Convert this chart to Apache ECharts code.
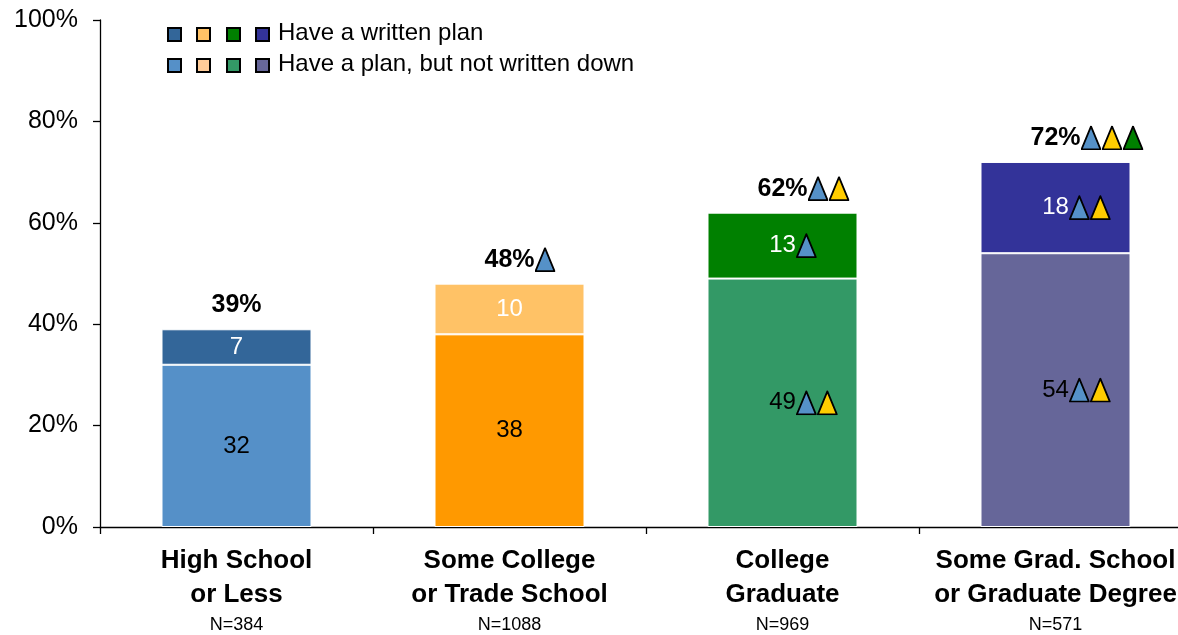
<!DOCTYPE html>
<html>
<head>
<meta charset="utf-8">
<title>Retirement plan by education</title>
<script src="https://cdn.jsdelivr.net/npm/echarts@6/dist/echarts.min.js"></script>
<style>
  html, body { margin: 0; padding: 0; background: #ffffff; }
  #chart { width: 1178px; height: 635px; }
</style>
</head>
<body>
<div id="chart"></div>
<script>
// Education groups (axis labels) and sample sizes
const categories = ['High School\nor Less', 'Some College\nor Trade School', 'College\nGraduate', 'Some Grad. School\nor Graduate Degree'];
const sampleSizes = [384, 1088, 969, 571];

// Percent of each group
const unwrittenPlan = [32, 38, 49, 54];   // have a plan, but not written down
const writtenPlan = [7, 10, 13, 18];      // have a written plan
const totals = unwrittenPlan.map((v, i) => v + writtenPlan[i]);

// Significance markers (b = vs. High School, y = vs. Some College, g = vs. College Graduate)
const unwrittenSig = [[], [], ['b', 'y'], ['b', 'y']];
const writtenSig = [[], [], ['b'], ['b', 'y']];
const totalSig = [[], ['b'], ['b', 'y'], ['b', 'y', 'g']];

const yTicks = [0, 20, 40, 60, 80, 100];

// Bar colours per group
const unwrittenColors = ['#5590C8', '#FF9900', '#339966', '#666699'];
const writtenColors = ['#336699', '#FFC266', '#008000', '#333399'];
const legendWrittenColors = ['#336699', '#FFC266', '#008000', '#333399'];
const legendUnwrittenColors = ['#5590C8', '#FFCC99', '#339966', '#666699'];
const markerColors = { b: '#5591C8', y: '#FFCC00', g: '#008000' };

const FONT = "'Liberation Sans', Arial, Helvetica, sans-serif";
const TRI_W = 21, TRI_H = 25;

function triangleImage(fill) {
  const svg = '<svg xmlns="http://www.w3.org/2000/svg" width="' + TRI_W + '" height="' + TRI_H + '">' +
    '<polygon points="1,24 10.5,1 20,24" fill="' + fill + '" stroke="#000" stroke-width="1.8" stroke-linejoin="round"/></svg>';
  const img = new Image();
  img.src = 'data:image/svg+xml;charset=utf-8,' + encodeURIComponent(svg);
  return img;
}

const images = {};
Object.keys(markerColors).forEach(k => { images[k] = triangleImage(markerColors[k]); });

function markerRich() {
  const rich = {
    sp1: { width: TRI_W * 1, fontSize: 1 },
    sp2: { width: TRI_W * 2, fontSize: 1 },
    sp3: { width: TRI_W * 3, fontSize: 1 }
  };
  Object.keys(images).forEach(k => {
    rich['t' + k] = { width: TRI_W, height: TRI_H, lineHeight: TRI_H, fontSize: 1, backgroundColor: { image: images[k] } };
  });
  return rich;
}

// Number centred on the bar, markers hanging off to its right
function labelWithMarks(text, marks) {
  const pad = marks.length ? '{sp' + marks.length + '| }' : '';
  return pad + '{v|' + text + '}' + marks.map(m => '{t' + m + '| }').join('');
}

function draw() {
  const chart = echarts.init(document.getElementById('chart'), null, { renderer: 'canvas' });

  const legendGraphics = [];
  const squareX = [168, 197, 227, 256];
  [legendWrittenColors, legendUnwrittenColors].forEach((cols, row) => {
    cols.forEach((c, i) => {
      legendGraphics.push({
        type: 'rect',
        shape: { x: squareX[i], y: 28 + row * 31, width: 13, height: 13 },
        style: { fill: c, stroke: '#000', lineWidth: 2 }
      });
    });
  });
  legendGraphics.push({
    type: 'text',
    style: { text: 'Have a written plan', x: 278, y: 33, fontSize: 24, fontFamily: FONT, fill: '#000', verticalAlign: 'middle' }
  });
  legendGraphics.push({
    type: 'text',
    style: { text: 'Have a plan, but not written down', x: 278, y: 64, fontSize: 24, fontFamily: FONT, fill: '#000', verticalAlign: 'middle' }
  });

  const option = {
    animation: false,
    backgroundColor: '#ffffff',
    textStyle: { fontFamily: FONT },
    grid: { left: 100, right: -14, top: 20, bottom: 108, containLabel: false, outerBoundsMode: 'none' },
    graphic: legendGraphics,
    xAxis: {
      type: 'category',
      data: categories,
      axisLine: { show: true, lineStyle: { color: '#000', width: 1.3 } },
      axisTick: { show: true, length: 7, lineStyle: { color: '#000', width: 1.3 } },
      axisLabel: {
        interval: 0,
        margin: 17,
        color: '#000',
        formatter: (value, idx) => value.split('\n').map(l => '{b|' + l + '}').join('\n') + '\n{n|N=' + sampleSizes[idx] + '}',
        rich: {
          b: { fontSize: 26, fontWeight: 'bold', lineHeight: 34, fontFamily: FONT, color: '#000' },
          n: { fontSize: 18, lineHeight: 26, fontFamily: FONT, color: '#000' }
        }
      }
    },
    yAxis: {
      type: 'value',
      min: yTicks[0],
      max: yTicks[yTicks.length - 1],
      interval: yTicks[1] - yTicks[0],
      axisLine: { show: true, lineStyle: { color: '#000', width: 1.3 } },
      axisTick: { show: true, inside: false, length: 7, lineStyle: { color: '#000', width: 1.3 } },
      splitLine: { show: false },
      axisLabel: { formatter: '{value}%', fontSize: 25, color: '#000', margin: 22, fontFamily: FONT }
    },
    series: [
      {
        name: 'Have a plan, but not written down',
        type: 'bar',
        stack: 'plan',
        barWidth: 150,
        data: unwrittenPlan.map((v, i) => ({ value: v, itemStyle: { color: unwrittenColors[i] } })),
        itemStyle: { borderColor: '#ffffff', borderWidth: 1 },
        label: {
          show: true,
          position: 'inside',
          color: '#000',
          textBorderWidth: 0,
          formatter: p => labelWithMarks(String(p.value), unwrittenSig[p.dataIndex]),
          rich: Object.assign(markerRich(), { v: { fontSize: 24, color: '#000', fontFamily: FONT } })
        }
      },
      {
        name: 'Have a written plan',
        type: 'bar',
        stack: 'plan',
        barWidth: 150,
        data: writtenPlan.map((v, i) => ({ value: v, itemStyle: { color: writtenColors[i] } })),
        itemStyle: { borderColor: '#ffffff', borderWidth: 1 },
        label: {
          show: true,
          position: 'inside',
          color: '#ffffff',
          textBorderWidth: 0,
          formatter: p => labelWithMarks(String(p.value), writtenSig[p.dataIndex]),
          rich: Object.assign(markerRich(), { v: { fontSize: 24, color: '#ffffff', fontFamily: FONT } })
        }
      },
      {
        name: 'Total',
        type: 'scatter',
        data: totals,
        symbolSize: 1,
        silent: true,
        itemStyle: { color: 'rgba(0,0,0,0)', opacity: 1 },
        label: {
          show: true,
          position: 'top',
          distance: 11,
          color: '#000',
          opacity: 1,
          textBorderWidth: 0,
          formatter: p => labelWithMarks(p.value + '%', totalSig[p.dataIndex]),
          rich: Object.assign(markerRich(), { v: { fontSize: 25, fontWeight: 'bold', color: '#000', fontFamily: FONT, height: 25 } })
        }
      }
    ]
  };
  chart.setOption(option);
}

// Draw once the marker images are decoded
Promise.all(Object.values(images).map(img => new Promise(res => {
  if (img.complete && img.naturalWidth) res(); else { img.onload = res; img.onerror = res; }
}))).then(draw);
</script>
</body>
</html>
